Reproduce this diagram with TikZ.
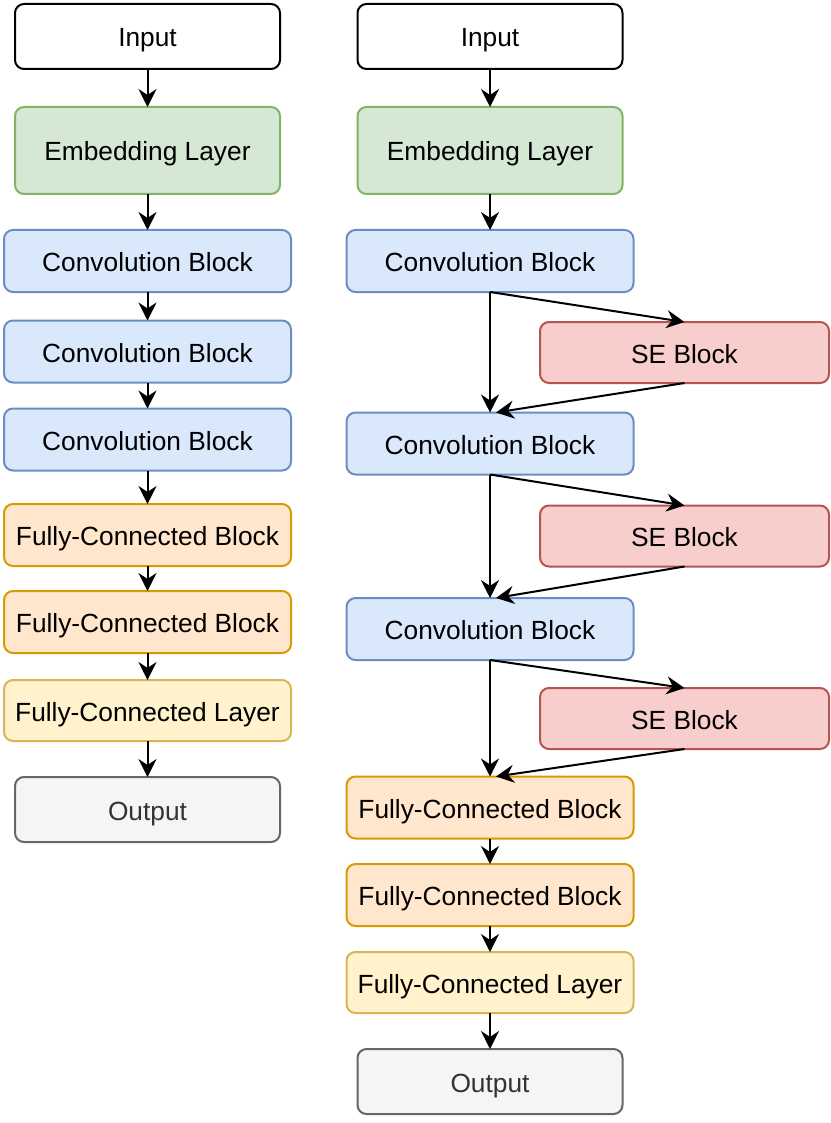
\documentclass[tikz,border=0pt]{standalone}
\usepackage{fontspec}
\setmainfont{Liberation Sans}
\usetikzlibrary{arrows.meta}
\definecolor{gfill}{HTML}{D5E8D4}\definecolor{gline}{HTML}{82B366}
\definecolor{bfill}{HTML}{DAE8FC}\definecolor{bline}{HTML}{6C8EBF}
\definecolor{ofill}{HTML}{FFE6CC}\definecolor{oline}{HTML}{D79B00}
\definecolor{yfill}{HTML}{FFF2CC}\definecolor{yline}{HTML}{D6B656}
\definecolor{rfill}{HTML}{F8CECC}\definecolor{rline}{HTML}{B85450}
\definecolor{kfill}{HTML}{F5F5F5}\definecolor{kline}{HTML}{666666}
\definecolor{ktext}{HTML}{333333}
\tikzset{
  box/.style={rectangle, rounded corners=9pt, line width=2pt, inner sep=0pt, outer sep=0pt,
    font=\fontsize{26.3}{30}\selectfont, text height=21pt, text depth=0pt},
  wbox/.style={box, draw=black, fill=white, minimum width=265pt, minimum height=65pt},
  gbox/.style={box, draw=gline, fill=gfill, minimum width=265pt, minimum height=87pt},
  bbox/.style={box, draw=bline, fill=bfill, minimum width=287pt, minimum height=62pt},
  obox/.style={box, draw=oline, fill=ofill, minimum width=287pt, minimum height=62pt},
  ybox/.style={box, draw=yline, fill=yfill, minimum width=287pt, minimum height=61pt},
  rbox/.style={box, draw=rline, fill=rfill, minimum width=289pt, minimum height=61pt},
  kbox/.style={box, draw=kline, fill=kfill, text=ktext, minimum width=265pt, minimum height=65pt},
  arr/.style={line width=2pt, -{Stealth[length=18pt, width=18pt, inset=6pt]}}
}
\begin{document}
\begin{tikzpicture}[x=1pt, y=-1pt]
\useasboundingbox (0,0) rectangle (830,1123);
% left column
\node[wbox] (in1) at (147.5,36.5) {Input};
\node[gbox] (emb1) at (147.5,150.5) {Embedding Layer};
\node[bbox] (c1a) at (147.5,261) {Convolution Block};
\node[bbox] (c1b) at (147.5,351.5) {Convolution Block};
\node[bbox] (c1c) at (147.5,439.5) {Convolution Block};
\node[obox] (f1a) at (147.5,535) {Fully-Connected Block};
\node[obox] (f1b) at (147.5,622) {Fully-Connected Block};
\node[ybox] (fl1) at (147.5,710.5) {Fully-Connected Layer};
\node[kbox] (out1) at (147.5,809.5) {Output};
\draw[arr] (in1) -- (emb1);
\draw[arr] (emb1) -- (c1a);
\draw[arr] (c1a) -- (c1b);
\draw[arr] (c1b) -- (c1c);
\draw[arr] (c1c) -- (f1a);
\draw[arr] (f1a) -- (f1b);
\draw[arr] (f1b) -- (fl1);
\draw[arr] (fl1) -- (out1);
% right column
\node[wbox] (in2) at (490,36.5) {Input};
\node[gbox] (emb2) at (490,150.5) {Embedding Layer};
\node[bbox] (c2a) at (490,261) {Convolution Block};
\node[rbox] (se1) at (684.5,352.5) {SE Block};
\node[bbox] (c2b) at (490,443.5) {Convolution Block};
\node[rbox] (se2) at (684.5,536) {SE Block};
\node[bbox] (c2c) at (490,629) {Convolution Block};
\node[rbox] (se3) at (684.5,718.5) {SE Block};
\node[obox] (f2a) at (490,807.5) {Fully-Connected Block};
\node[obox] (f2b) at (490,895) {Fully-Connected Block};
\node[ybox] (fl2) at (490,982.5) {Fully-Connected Layer};
\node[kbox] (out2) at (490,1081.5) {Output};
\draw[arr] (in2) -- (emb2);
\draw[arr] (emb2) -- (c2a);
\draw[arr] (c2a.south) -- (c2b.north);
\draw[arr] (c2a.south) -- (se1.north);
\draw[arr] (se1.south) -- ([xshift=6pt]c2b.north);
\draw[arr] (c2b.south) -- (c2c.north);
\draw[arr] (c2b.south) -- (se2.north);
\draw[arr] (se2.south) -- ([xshift=6pt]c2c.north);
\draw[arr] (c2c.south) -- (f2a.north);
\draw[arr] (c2c.south) -- (se3.north);
\draw[arr] (se3.south) -- ([xshift=6pt]f2a.north);
\draw[arr] (f2a) -- (f2b);
\draw[arr] (f2b) -- (fl2);
\draw[arr] (fl2) -- (out2);
\end{tikzpicture}
\end{document}
